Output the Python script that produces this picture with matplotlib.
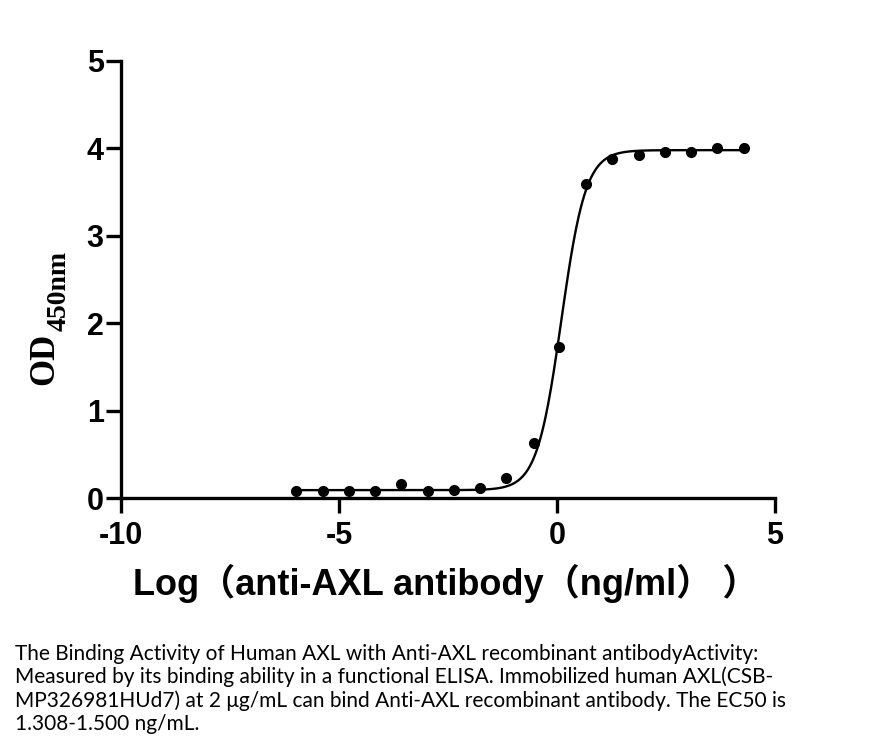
import numpy as np
import matplotlib
matplotlib.use("Agg")
import matplotlib.pyplot as plt

# Data
log_conc = [-5.99, -5.37, -4.77, -4.17, -3.57, -2.96, -2.36, -1.76, -1.16, -0.53,
            0.05, 0.66, 1.27, 1.87, 2.47, 3.07, 3.68, 4.29]
od450 = [0.075, 0.075, 0.075, 0.083, 0.16, 0.075, 0.087, 0.12, 0.23, 0.63,
         1.73, 3.59, 3.88, 3.93, 3.96, 3.96, 4.00, 4.00]

# Four-parameter logistic fit parameters (estimated)
fit_bottom = 0.09
fit_top = 3.98
fit_logec50 = 0.10
fit_hill = 1.55

xticks = [-10, -5, 0, 5]
xticklabels = ['-10', '-5', '0', '5']
yticks = [0, 1, 2, 3, 4, 5]

xlabel = "Log\uff08anti-AXL antibody\uff08ng/ml\uff09 \uff09"
ylabel_main = "OD"
ylabel_sub = "450nm"
caption_lines = [
    "The Binding Activity of Human AXL with Anti-AXL recombinant antibodyActivity:",
    "Measured by its binding ability in a functional ELISA. Immobilized human AXL(CSB-",
    "MP326981HUd7) at 2 \u03bcg/mL can bind Anti-AXL recombinant antibody. The EC50 is",
    "1.308-1.500 ng/mL.",
]

W, H = 875, 745
fig = plt.figure(figsize=(W/100, H/100), dpi=100)
ax = fig.add_axes([121/W, 1-498/H, (775-121)/W, (498-61)/H])

xs = np.linspace(min(log_conc), max(log_conc), 500)
ys = fit_bottom + (fit_top - fit_bottom) / (1 + 10 ** ((fit_logec50 - xs) * fit_hill))
ax.plot(xs, ys, color='black', lw=1.7, zorder=2)
ax.plot(log_conc, od450, 'o', color='black', ms=7, zorder=3, clip_on=False)

ax.set_xlim(-10, 5)
ax.set_ylim(0, 5)
ax.set_xticks(xticks)
ax.set_xticklabels(xticklabels)
ax.set_yticks(yticks)
for s in ['top', 'right']:
    ax.spines[s].set_visible(False)
for s in ['left', 'bottom']:
    ax.spines[s].set_linewidth(2.4)
ax.tick_params(axis='both', width=2.4, length=10.5, direction='out')
ax.tick_params(axis='x', pad=6)
ax.tick_params(axis='y', pad=2)
for lab in ax.get_xticklabels() + ax.get_yticklabels():
    lab.set_fontfamily('Liberation Sans')
    lab.set_fontweight('bold')
    lab.set_fontsize(22)

fig.text(133/W, 1-595/H, xlabel, ha='left', va='baseline', fontsize=26, fontweight='bold',
         family=['Liberation Sans', 'Noto Sans CJK SC'])

# y label: "OD" with subscript "450nm"
t_main = fig.text(53/W, 1-385/H, ylabel_main, rotation=90, rotation_mode='anchor',
                  ha='left', va='baseline', fontsize=25, fontweight='bold',
                  family='Liberation Serif')
fig.canvas.draw()
bb = t_main.get_window_extent(fig.canvas.get_renderer())
t_sub = fig.text(66/W, (bb.y1 + 2)/H, ylabel_sub, rotation=90, rotation_mode='anchor',
                 ha='left', va='baseline', fontsize=20, fontweight='bold',
                 family='Liberation Serif')

for i, line in enumerate(caption_lines):
    fig.text(15/W, 1-(660 + i*23.4)/H, line, ha='left', va='baseline', fontsize=15.0, family='Lato')

fig.savefig('out.png', dpi=100)
